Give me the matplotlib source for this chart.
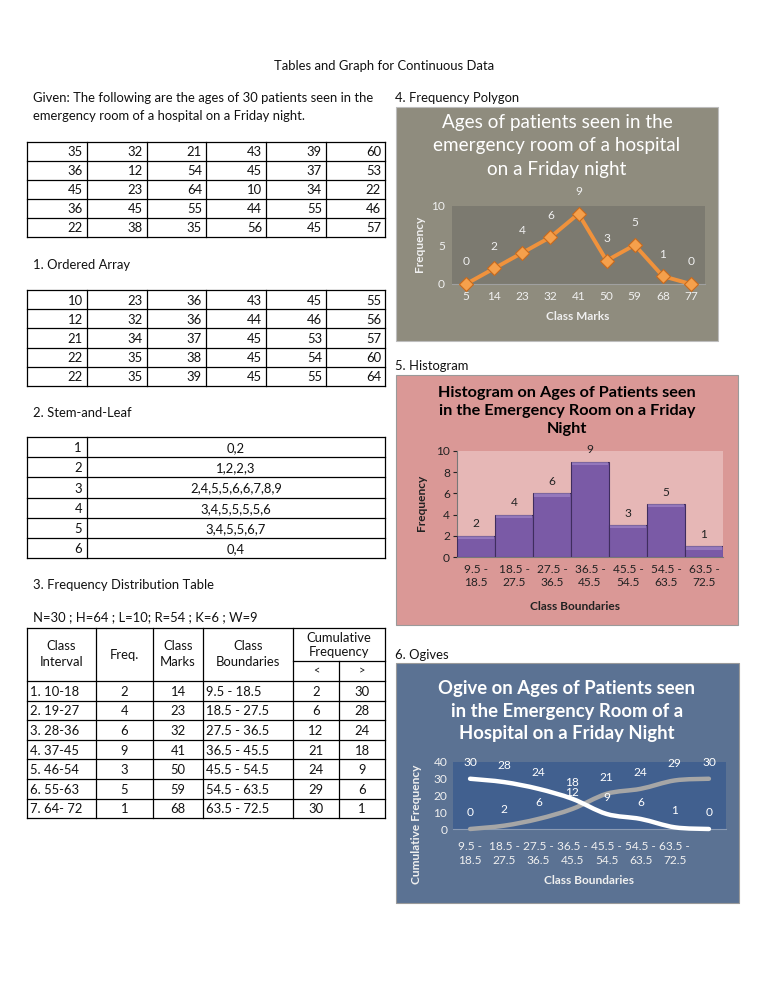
import numpy as np
import matplotlib
matplotlib.use('Agg')
import matplotlib.pyplot as plt
from matplotlib.patches import Rectangle, PathPatch
from matplotlib.path import Path

plt.rcParams['font.family'] = ['Lato', 'DejaVu Sans']

# data
ages = [[35, 32, 21, 43, 39, 60],
        [36, 12, 54, 45, 37, 53],
        [45, 23, 64, 10, 34, 22],
        [36, 45, 55, 44, 55, 46],
        [22, 38, 35, 56, 45, 57]]
ordered = [[10, 23, 36, 43, 45, 55],
           [12, 32, 36, 44, 46, 56],
           [21, 34, 37, 45, 53, 57],
           [22, 35, 38, 45, 54, 60],
           [22, 35, 39, 45, 55, 64]]
stems = [1, 2, 3, 4, 5, 6]
leaves = ['0,2', '1,2,2,3', '2,4,5,5,6,6,7,8,9', '3,4,5,5,5,5,6', '3,4,5,5,6,7', '0,4']
intervals = ['1. 10-18', '2. 19-27', '3. 28-36', '4. 37-45', '5. 46-54', '6. 55-63', '7. 64- 72']
freq = [2, 4, 6, 9, 3, 5, 1]
marks = [14, 23, 32, 41, 50, 59, 68]
boundaries = ['9.5 - 18.5', '18.5 - 27.5', '27.5 - 36.5', '36.5 - 45.5',
              '45.5 - 54.5', '54.5 - 63.5', '63.5 - 72.5']
cf_less = [2, 6, 12, 21, 24, 29, 30]
cf_more = [30, 28, 24, 18, 9, 6, 1]

poly_marks = [5, 14, 23, 32, 41, 50, 59, 68, 77]
poly_freq = [0, 2, 4, 6, 9, 3, 5, 1, 0]
hist_labels = ['9.5 -\n18.5', '18.5 -\n27.5', '27.5 -\n36.5', '36.5 -\n45.5',
               '45.5 -\n54.5', '54.5 -\n63.5', '63.5 -\n72.5']
ogive_labels = hist_labels + ['']
ogive_less = [0, 2, 6, 12, 21, 24, 29, 30]
ogive_more = [30, 28, 24, 18, 9, 6, 1, 0]

W, H = 768, 994
fig = plt.figure(figsize=(W / 100, H / 100), dpi=100)
page = fig.add_axes([0, 0, 1, 1])
page.set_xlim(0, W)
page.set_ylim(H, 0)
page.axis('off')

FS = 9.4
TS = 8.6   # chart tick / label size
TXT = '#111111'


def box_axes(x0, y0, x1, y1):
    return fig.add_axes([x0 / W, 1 - y1 / H, (x1 - x0) / W, (y1 - y0) / H])


def hline(y, x0, x1):
    page.plot([x0, x1], [y, y], color='black', lw=0.9)


def vline(x, y0, y1):
    page.plot([x, x], [y0, y1], color='black', lw=0.9)


def grid_table(cols, y0, rh, rows):
    n = len(rows)
    for i in range(n + 1):
        hline(y0 + i * rh, cols[0], cols[-1])
    for x in cols:
        vline(x, y0, y0 + n * rh)
    for i, row in enumerate(rows):
        for j, v in enumerate(row):
            page.text(cols[j + 1] - 4, y0 + (i + 0.55) * rh, str(v), ha='right', va='center',
                      fontsize=FS, color=TXT)


# headings and text
page.text(384, 66, 'Tables and Graph for Continuous Data', ha='center', va='center', fontsize=FS, color=TXT)
page.text(33, 98, 'Given: The following are the ages of 30 patients seen in the', va='center', fontsize=FS, color=TXT)
page.text(33, 116, 'emergency room of a hospital on a Friday night.', va='center', fontsize=FS, color=TXT)

cols6 = [27, 87, 147, 206, 266, 326, 385]
grid_table(cols6, 142, 19, ages)

page.text(33, 265, '1. Ordered Array', va='center', fontsize=FS, color=TXT)
grid_table(cols6, 290, 19.2, ordered)

page.text(33, 413, '2. Stem-and-Leaf', va='center', fontsize=FS, color=TXT)
sy0, srh = 437, 20.2
for i in range(len(stems) + 1):
    hline(sy0 + i * srh, 27, 385)
for x in [27, 87, 385]:
    vline(x, sy0, sy0 + len(stems) * srh)
for i, (s, lf) in enumerate(zip(stems, leaves)):
    yc = sy0 + (i + 0.55) * srh
    page.text(82, yc, str(s), ha='right', va='center', fontsize=FS, color=TXT)
    page.text(236, yc, lf, ha='center', va='center', fontsize=FS, color=TXT)

page.text(33, 585, '3. Frequency Distribution Table', va='center', fontsize=FS, color=TXT)
page.text(33, 617, 'N=30 ; H=64 ; L=10; R=54 ; K=6 ; W=9', va='center', fontsize=FS, color=TXT)

fc = [27, 96, 153, 203, 293, 339, 385]
ft, fsub, fhb, frh = 628, 661, 681, 19.6
hline(ft, fc[0], fc[-1])
hline(fsub, fc[4], fc[-1])
for i in range(len(freq) + 1):
    hline(fhb + i * frh, fc[0], fc[-1])
fb = fhb + len(freq) * frh
for j, x in enumerate(fc):
    vline(x, fsub if j == 5 else ft, fb)
page.text((fc[0] + fc[1]) / 2, 654, 'Class\nInterval', ha='center', va='center', fontsize=FS,
          color=TXT, linespacing=1.5)
page.text((fc[1] + fc[2]) / 2, 655, 'Freq.', ha='center', va='center', fontsize=FS, color=TXT)
page.text((fc[2] + fc[3]) / 2, 654, 'Class\nMarks', ha='center', va='center', fontsize=FS,
          color=TXT, linespacing=1.5)
page.text((fc[3] + fc[4]) / 2, 654, 'Class\nBoundaries', ha='center', va='center', fontsize=FS,
          color=TXT, linespacing=1.5)
page.text((fc[4] + fc[6]) / 2, 645, 'Cumulative\nFrequency', ha='center', va='center', fontsize=FS,
          color=TXT, linespacing=1.3)
page.text((fc[4] + fc[5]) / 2, 671, '<', ha='center', va='center', fontsize=FS - 1.5, color=TXT)
page.text((fc[5] + fc[6]) / 2, 671, '>', ha='center', va='center', fontsize=FS - 1.5, color=TXT)
for i in range(len(freq)):
    yc = fhb + (i + 0.55) * frh
    page.text(fc[0] + 3, yc, intervals[i], va='center', fontsize=FS, color=TXT)
    page.text((fc[1] + fc[2]) / 2, yc, str(freq[i]), ha='center', va='center', fontsize=FS, color=TXT)
    page.text((fc[2] + fc[3]) / 2, yc, str(marks[i]), ha='center', va='center', fontsize=FS, color=TXT)
    page.text(fc[3] + 3, yc, boundaries[i], va='center', fontsize=FS, color=TXT)
    page.text((fc[4] + fc[5]) / 2, yc, str(cf_less[i]), ha='center', va='center', fontsize=FS, color=TXT)
    page.text((fc[5] + fc[6]) / 2, yc, str(cf_more[i]), ha='center', va='center', fontsize=FS, color=TXT)

# ---------- 4. frequency polygon ----------
page.text(395, 98, '4. Frequency Polygon', va='center', fontsize=FS, color=TXT)
page.add_patch(Rectangle((396, 107), 322, 234, facecolor='#8f8c7e', edgecolor='#bdbdbd', lw=0.8))
page.text(557, 146, 'Ages of patients seen in the\nemergency room of a hospital\non a Friday night',
          ha='center', va='center', fontsize=13.6, color='white', linespacing=1.45)
page.text(420, 244, 'Frequency', rotation=90, ha='center', va='center', fontsize=TS,
          color='#f0f0f0', fontweight='bold')
page.text(578, 317, 'Class Marks', ha='center', va='center', fontsize=TS, color='#f0f0f0', fontweight='bold')

ax1 = box_axes(452, 206, 705, 284)
ax1.set_facecolor('#7c7a70')
ax1.plot(poly_marks, poly_freq, color='#f0923c', lw=2.8, marker='D', ms=7,
         markerfacecolor='#f5a04c', markeredgecolor='#c96a1c', markeredgewidth=0.8, zorder=3, clip_on=False)
for x, y in zip(poly_marks, poly_freq):
    ax1.annotate(str(y), (x, y), xytext=(0, 12), textcoords='offset points', ha='center', va='bottom',
                 fontsize=TS, color='#f0f0f0')
ax1.set_xlim(0.5, 81.5)
ax1.set_ylim(0, 10)
ax1.set_xticks(poly_marks)
ax1.set_yticks([0, 5, 10])
ax1.tick_params(length=0, labelsize=TS, colors='#f0f0f0', pad=5)
for s in ['top', 'right', 'left']:
    ax1.spines[s].set_visible(False)
ax1.spines['bottom'].set_color('#a0a0a0')

# ---------- 5. histogram ----------
page.text(395, 366, '5. Histogram', va='center', fontsize=FS, color=TXT)
page.add_patch(Rectangle((396, 375), 342, 250, facecolor='#da9896', edgecolor='#9a9a9a', lw=0.8))
page.text(567, 411, 'Histogram on Ages of Patients seen\nin the Emergency Room on a Friday\nNight',
          ha='center', va='center', fontsize=11.7, color='black', fontweight='bold', linespacing=1.4)
page.text(421, 503, 'Frequency', rotation=90, ha='center', va='center', fontsize=TS,
          color='#222222', fontweight='bold')
page.text(575, 607, 'Class Boundaries', ha='center', va='center', fontsize=TS, color='#222222',
          fontweight='bold')

ax2 = box_axes(457, 451, 723, 557)
ax2.set_facecolor('#e6b7b6')
xs = np.arange(len(freq))
ax2.bar(xs, freq, width=1.0, color='#7a5aa6', edgecolor='#3f2d5e', lw=0.8, zorder=3)
ax2.bar(xs, [0.3] * len(freq), bottom=np.array(freq) - 0.3, width=0.96, color='#a88dcc',
        lw=0, zorder=4, alpha=0.6)
for x, y in zip(xs, freq):
    ax2.text(x, y + 0.6, str(y), ha='center', va='bottom', fontsize=TS, color='#222222')
ax2.set_xlim(-0.5, 6.5)
ax2.set_ylim(0, 10)
ax2.set_xticks(xs)
ax2.set_xticklabels(hist_labels, linespacing=1.2)
ax2.set_yticks([0, 2, 4, 6, 8, 10])
ax2.tick_params(axis='x', length=0, labelsize=TS, colors='#222222', pad=5)
ax2.tick_params(axis='y', length=3, labelsize=TS, colors='#222222', pad=2)
for s in ['top', 'right']:
    ax2.spines[s].set_visible(False)
ax2.spines['left'].set_color('#777777')
ax2.spines['bottom'].set_color('#777777')

# ---------- 6. ogives ----------
page.text(395, 655, '6. Ogives', va='center', fontsize=FS, color=TXT)
page.add_patch(Rectangle((396, 663), 343, 240, facecolor='#5b7293', edgecolor='#9a9a9a', lw=0.8))
page.text(567, 711, 'Ogive on Ages of Patients seen\nin the Emergency Room of a\nHospital on a Friday Night',
          ha='center', va='center', fontsize=13.3, color='white', fontweight='bold', linespacing=1.4)
page.text(416, 824, 'Cumulative Frequency', rotation=90, ha='center', va='center', fontsize=TS,
          color='#f0f0f0', fontweight='bold')
page.text(589, 880, 'Class Boundaries', ha='center', va='center', fontsize=TS, color='#f0f0f0',
          fontweight='bold')

ax3 = box_axes(453, 762, 726, 829)
ax3.set_facecolor('#41608f')


def smooth(ax, xs, ys, color):
    P = np.column_stack([xs, ys]).astype(float)
    verts = [P[0]]
    codes = [Path.MOVETO]
    n = len(P)
    for i in range(n - 1):
        p0 = P[i - 1] if i > 0 else P[i]
        p1, p2 = P[i], P[i + 1]
        p3 = P[i + 2] if i + 2 < n else P[i + 1]
        verts += [p1 + (p2 - p0) / 6, p2 - (p3 - p1) / 6, p2]
        codes += [Path.CURVE4] * 3
    ax.add_patch(PathPatch(Path(verts, codes), fill=False, edgecolor=color, lw=3.2,
                           capstyle='round', zorder=3, clip_on=False))


ox = np.arange(len(ogive_less))
smooth(ax3, ox, ogive_less, '#a6a6a6')
smooth(ax3, ox, ogive_more, 'white')
for x, a, b in zip(ox, ogive_less, ogive_more):
    ax3.annotate(str(a), (x, a), xytext=(0, 8), textcoords='offset points', ha='center', va='bottom',
                 fontsize=TS, color='white')
    ax3.annotate(str(b), (x, b), xytext=(0, 8), textcoords='offset points', ha='center', va='bottom',
                 fontsize=TS, color='white')
ax3.set_xlim(-0.5, 7.5)
ax3.set_ylim(0, 40)
ax3.set_xticks(ox)
ax3.set_xticklabels(ogive_labels, linespacing=1.25)
ax3.set_yticks([0, 10, 20, 30, 40])
ax3.tick_params(length=0, labelsize=TS, colors='#f0f0f0', pad=4)
ax3.tick_params(axis='x', pad=9)
for s in ['top', 'right', 'left']:
    ax3.spines[s].set_visible(False)
ax3.spines['bottom'].set_color('#8a9bb5')

fig.savefig('out.png', dpi=100)
